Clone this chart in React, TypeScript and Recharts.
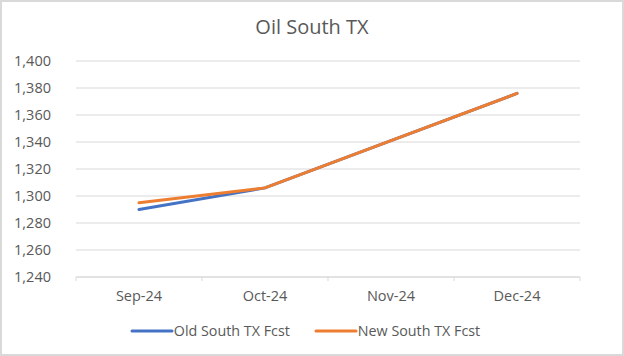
import { LineChart, Line, XAxis, YAxis, CartesianGrid, Legend } from "recharts";

const months = ["Sep-24", "Oct-24", "Nov-24", "Dec-24"];
const oldFcst = [1290, 1306, 1341, 1376];
const newFcst = [1295, 1306, 1341, 1376];
const yTicks = [1240, 1260, 1280, 1300, 1320, 1340, 1360, 1380, 1400];

const data = months.map((m, i) => ({ month: m, old: oldFcst[i], next: newFcst[i] }));

const FONT = "'Open Sans', 'Noto Sans', sans-serif";
const GRAY = "#595959";
const BAND = 126;

function XTick(props: any) {
  const { x, y, payload, index } = props;
  return (
    <g>
      <line x1={x - BAND / 2} x2={x - BAND / 2} y1={y - 8} y2={y - 4} stroke="#d9d9d9" />
      {index === months.length - 1 && (
        <line x1={x + BAND / 2} x2={x + BAND / 2} y1={y - 8} y2={y - 4} stroke="#d9d9d9" />
      )}
      <text x={x} y={y + 16} textAnchor="middle" fill={GRAY} fontSize={14.5} fontFamily={FONT}>
        {payload.value}
      </text>
    </g>
  );
}

function LegendContent() {
  const items = [
    { label: "Old South TX Fcst", color: "#4472C4" },
    { label: "New South TX Fcst", color: "#ED7D31" },
  ];
  return (
    <div
      style={{
        display: "flex",
        justifyContent: "center",
        gap: 24,
        paddingRight: 14,
        fontFamily: FONT,
        fontSize: 14.3,
        color: GRAY,
      }}
    >
      {items.map((it) => (
        <div key={it.label} style={{ display: "flex", alignItems: "center" }}>
          <svg width={44} height={8}>
            <line x1={2} x2={42} y1={4} y2={4} stroke={it.color} strokeWidth={3} strokeLinecap="round" />
          </svg>
          <span>{it.label}</span>
        </div>
      ))}
    </div>
  );
}

export default function App() {
  return (
    <div
      style={{
        position: "fixed",
        left: 0,
        top: 0,
        width: 624,
        height: 356,
        background: "#fff",
        boxSizing: "border-box",
        border: "2px solid #d9d9d9",
      }}
    >
      <div
        style={{
          position: "absolute",
          top: 11,
          width: "100%",
          textAlign: "center",
          fontFamily: FONT,
          fontSize: 20,
          color: GRAY,
        }}
      >
        Oil South TX
      </div>
      <div style={{ position: "absolute", left: -2, top: -2 }}>
        <LineChart width={624} height={356} data={data} margin={{ top: 61, right: 44, left: 11, bottom: 30 }}>
          <CartesianGrid vertical={false} stroke="#d9d9d9" />
          <XAxis
            dataKey="month"
            axisLine={{ stroke: "#d9d9d9" }}
            tickLine={false}
            tick={<XTick />}
            padding={{ left: BAND / 2, right: BAND / 2 }}
            height={30}
          />
          <YAxis
            domain={[1240, 1400]}
            ticks={yTicks}
            axisLine={false}
            tickLine={false}
            width={65}
            tickMargin={19}
            tickFormatter={(v: number) => v.toLocaleString("en-US")}
            tick={{ fill: GRAY, fontSize: 14.5, fontFamily: FONT }}
          />
          <Line
            type="linear"
            dataKey="old"
            name="Old South TX Fcst"
            stroke="#4472C4"
            strokeWidth={3}
            strokeLinecap="round"
            dot={false}
            isAnimationActive={false}
          />
          <Line
            type="linear"
            dataKey="next"
            name="New South TX Fcst"
            stroke="#ED7D31"
            strokeWidth={3}
            strokeLinecap="round"
            dot={false}
            isAnimationActive={false}
          />
          <Legend
            content={<LegendContent />}
            wrapperStyle={{ top: 321, left: 0, width: 624 }}
          />
        </LineChart>
      </div>
    </div>
  );
}
